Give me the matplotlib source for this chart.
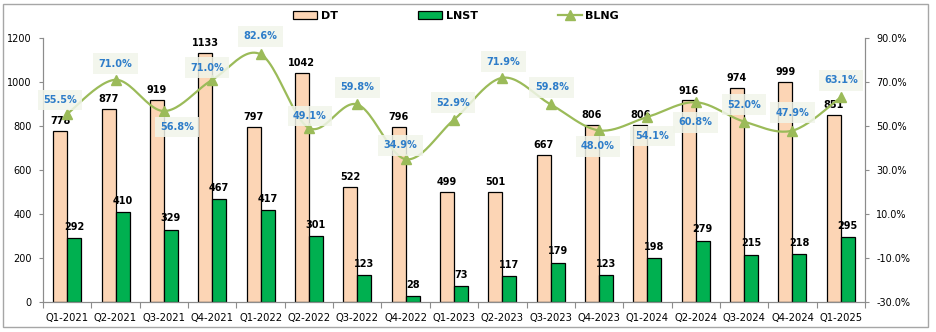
import matplotlib
matplotlib.use("Agg")
import matplotlib.pyplot as plt
import numpy as np
from matplotlib.patches import Rectangle
from matplotlib.ticker import FuncFormatter, MultipleLocator

# Quarterly data: revenue (DT), net profit (LNST), gross margin (BLNG)
quarters = ["Q1-2021", "Q2-2021", "Q3-2021", "Q4-2021", "Q1-2022", "Q2-2022",
            "Q3-2022", "Q4-2022", "Q1-2023", "Q2-2023", "Q3-2023", "Q4-2023",
            "Q1-2024", "Q2-2024", "Q3-2024", "Q4-2024", "Q1-2025"]
dt = [778, 877, 919, 1133, 797, 1042, 522, 796, 499, 501, 667, 806,
      806, 916, 974, 999, 851]
lnst = [292, 410, 329, 467, 417, 301, 123, 28, 73, 117, 179, 123,
        198, 279, 215, 218, 295]
blng = [55.5, 71.0, 56.8, 71.0, 82.6, 49.1, 59.8, 34.9, 52.9, 71.9, 59.8, 48.0,
        54.1, 60.8, 52.0, 47.9, 63.1]
pct_ticks = [-30, -10, 10, 30, 50, 70, 90]

# label offsets (px) for the margin labels, dy positive = above the point
blng_offsets = [(-7, 14), (0, 16), (13, -16), (-5, 12), (0, 18), (1, 12),
                (0, 17), (-5, 14), (-1, 17), (1, 16), (1, 17), (-1, -16),
                (5, -19), (0, -20), (0, 17), (0, 18), (0, 17)]

C_DT = "#FCD5B5"
C_LNST = "#00B050"
C_LINE = "#9BBB59"
C_PCT = "#2E7DC9"
C_AXIS = "#8C8C8C"

plt.rcParams["font.family"] = "DejaVu Sans"


def catmull_rom(xs, ys, n=24):
    """Smooth curve through every point, like a spreadsheet 'smoothed line'."""
    px = np.concatenate([[xs[0]], xs, [xs[-1]]])
    py = np.concatenate([[ys[0]], ys, [ys[-1]]])
    out_x, out_y = [], []
    t = np.linspace(0, 1, n, endpoint=False)
    for i in range(1, len(px) - 2):
        for arr, out in ((px, out_x), (py, out_y)):
            p0, p1, p2, p3 = arr[i - 1], arr[i], arr[i + 1], arr[i + 2]
            out.extend(0.5 * (2 * p1 + (-p0 + p2) * t
                              + (2 * p0 - 5 * p1 + 4 * p2 - p3) * t ** 2
                              + (-p0 + 3 * p1 - 3 * p2 + p3) * t ** 3))
    out_x.append(xs[-1])
    out_y.append(ys[-1])
    return np.array(out_x), np.array(out_y)


fig = plt.figure(figsize=(9.36, 3.32), dpi=100)
ax = fig.add_axes([43 / 936, 30 / 332, 822 / 936, 264 / 332])
ax2 = ax.twinx()

x = np.arange(len(quarters))
w = 0.29
bars_dt = ax.bar(x - w / 2, dt, w, color=C_DT, edgecolor="black", linewidth=0.9,
                 label="DT", zorder=2)
bars_ln = ax.bar(x + w / 2, lnst, w, color=C_LNST, edgecolor="black", linewidth=0.9,
                 label="LNST", zorder=2)

for bar, v in zip(bars_dt, dt):
    ax.annotate(str(v), (bar.get_x() + bar.get_width() / 2, v), xytext=(0, 3.5),
                textcoords="offset points", ha="center", va="bottom",
                fontsize=7, fontweight="bold", color="black", zorder=5)
for bar, v in zip(bars_ln, lnst):
    ax.annotate(str(v), (bar.get_x() + bar.get_width() / 2, v), xytext=(0, 4.5),
                textcoords="offset points", ha="center", va="bottom",
                fontsize=7, fontweight="bold", color="black", zorder=5)

sx, sy = catmull_rom(x.astype(float), np.array(blng))
ax2.plot(sx, sy, color=C_LINE, linewidth=1.6, zorder=3)
ax2.plot(x, blng, linestyle="none", marker="^", markersize=7, color=C_LINE, zorder=4)
line_handle, = ax2.plot([], [], color=C_LINE, linewidth=1.6, marker="^",
                        markersize=7, label="BLNG")

for xi, v, (dx, dy) in zip(x, blng, blng_offsets):
    ax2.annotate(f"{v:.1f}%", (xi, v), xytext=(dx * 0.72, dy * 0.72),
                 textcoords="offset points", ha="center", va="center",
                 fontsize=7, fontweight="bold", color=C_PCT, zorder=6,
                 bbox=dict(boxstyle="square,pad=0.55", facecolor="#F1F5EA",
                           edgecolor="none", alpha=0.85))

ax.set_xlim(-0.5, len(quarters) - 0.5)
ax.set_ylim(0, 1200)
ax.yaxis.set_major_locator(MultipleLocator(200))
ax2.set_ylim(-30, 90)
ax2.set_yticks(pct_ticks)
ax2.yaxis.set_major_formatter(FuncFormatter(lambda v, _: f"{v:.1f}%"))

ax.set_xticks(x)
ax.set_xticklabels(quarters)
ax.set_xticks(np.arange(-0.5, len(quarters)), minor=True)
ax.tick_params(axis="x", which="major", length=0, pad=8, labelsize=7.2)
ax.tick_params(axis="x", which="minor", length=4, width=0.8, color=C_AXIS,
               direction="out")
ax.tick_params(axis="y", length=3, width=0.8, color=C_AXIS, pad=5, labelsize=7)
ax2.tick_params(axis="y", length=3, width=0.8, color=C_AXIS, pad=5, labelsize=7)

for a in (ax, ax2):
    a.spines["top"].set_visible(False)
    for side in ("left", "right", "bottom"):
        a.spines[side].set_color(C_AXIS)
        a.spines[side].set_linewidth(0.8)
ax.set_zorder(ax2.get_zorder() - 1)
ax.patch.set_visible(False)

fig.legend(handles=[bars_dt, bars_ln, line_handle], loc="center",
           bbox_to_anchor=(456 / 936, 1 - 16 / 332), ncol=3, frameon=False,
           prop={"size": 8, "weight": "bold"}, handlelength=2.2,
           handleheight=0.8, handletextpad=0.3, columnspacing=7.2)

# thin grey frame around the whole chart
fig.patches.append(Rectangle((3 / 936, 5 / 332), 925 / 936, 323 / 332,
                             transform=fig.transFigure, fill=False,
                             edgecolor="#A6A6A6", linewidth=1))

fig.savefig("out.png", dpi=100)
